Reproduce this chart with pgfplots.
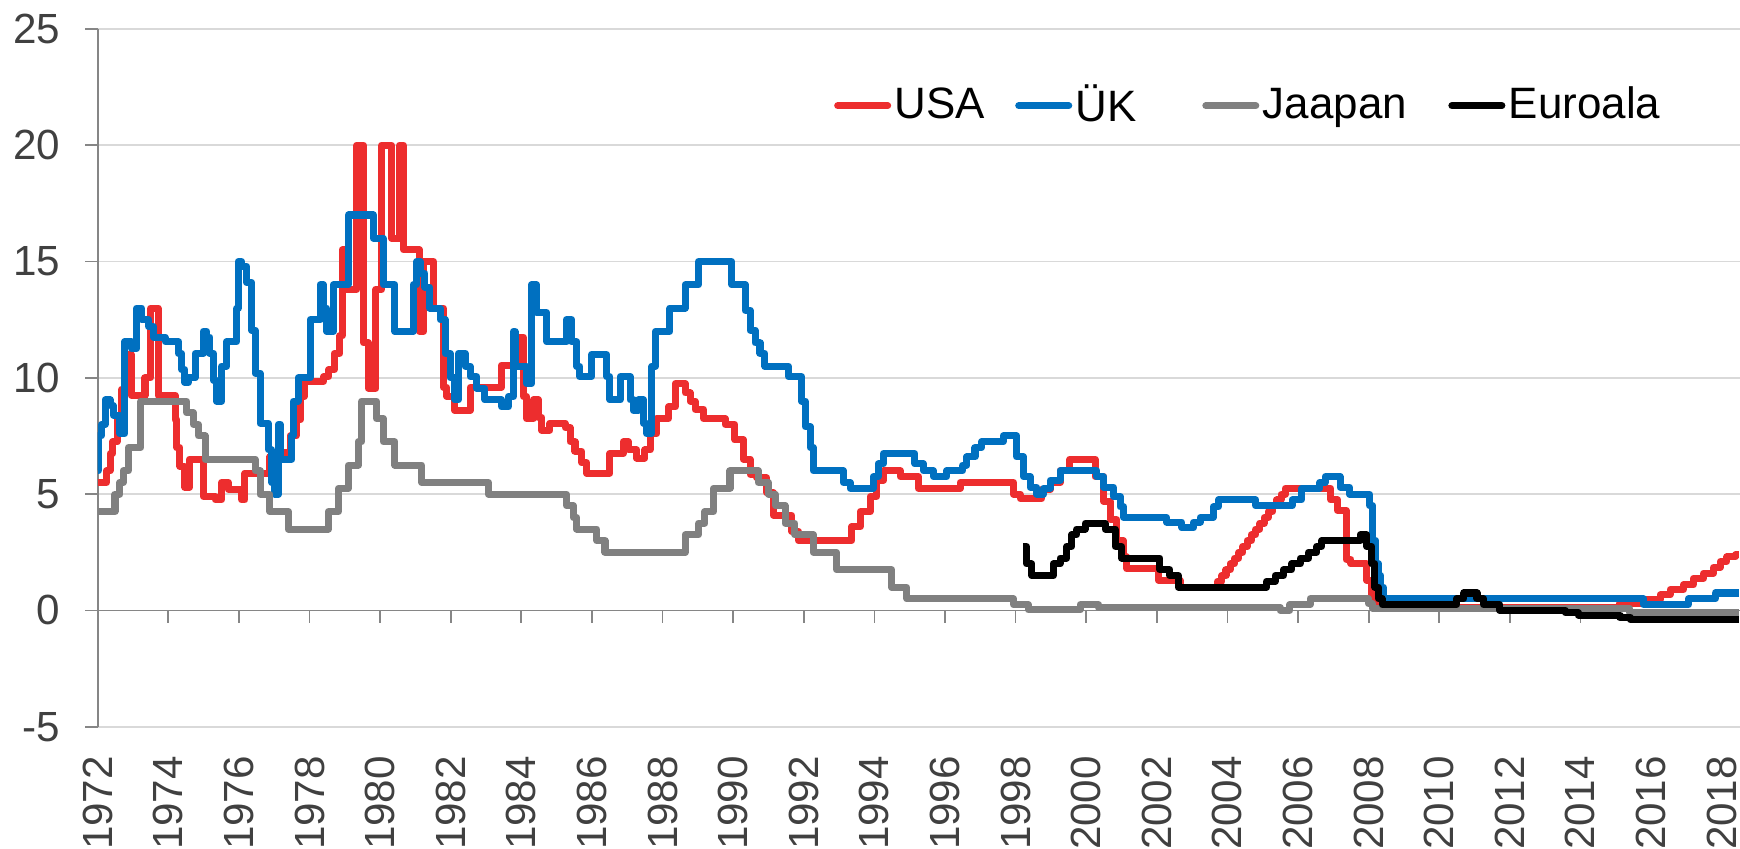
\documentclass[border=0pt]{standalone}
\usepackage{fontspec}
\setmainfont{Liberation Sans}
\usepackage{pgfplots}
\pgfplotsset{compat=1.18}

\definecolor{usared}{RGB}{237,45,46}
\definecolor{ukblue}{RGB}{0,112,192}
\definecolor{jpgray}{RGB}{128,128,128}
\definecolor{axgray}{RGB}{134,134,134}
\definecolor{gridgray}{RGB}{217,217,217}
\definecolor{lblgray}{RGB}{64,64,64}

\begin{document}
\begin{tikzpicture}
\begin{axis}[
  scale only axis,
  width=16.422cm, height=6.978cm,
  xmin=1972, xmax=2018.52,
  ymin=-5, ymax=25,
  axis y line*=left,
  axis x line*=bottom,
  x axis line style={draw=none},
  y axis line style={draw=axgray, line width=0.5pt},
  xtick={1972,1974,...,2018},
  xticklabels={1972,1974,1976,1978,1980,1982,1984,1986,1988,1990,1992,1994,1996,1998,2000,2002,2004,2006,2008,2010,2012,2014,2016,2018},
  ytick={-5,0,5,10,15,20,25},
  yticklabels={-5,0,5,10,15,20,25},
  tick align=outside,
  major tick length=0.127cm,
  xtick style={draw=none},
  ytick style={draw=axgray, line width=0.5pt},
  ymajorgrids,
  major grid style={draw=gridgray, line width=0.45pt},
  ticklabel style={font=\fontsize{12}{14}\selectfont, text=lblgray},
  yticklabel style={inner sep=0pt},
  yticklabel shift=0.24cm,
  xticklabel style={rotate=90, anchor=east, inner sep=0pt},
  xticklabel shift=0.16cm,
  no markers,
  every axis plot/.append style={line width=2pt, line join=round, const plot},
  legend columns=4,
  legend cell align=left,
  legend image code/.code={\draw[#1, line cap=round] plot coordinates {(0cm,0cm) (0.5cm,0cm)};},
  legend style={draw=none, fill=none, inner sep=0pt,
    font=\fontsize{12.5}{15}\selectfont,
    at={(axis description cs:0.448,0.89)}, anchor=west,
    nodes={inner sep=1pt},
    /tikz/every even column/.append style={column sep=0pt}},
]
% axis line at zero with its ticks
\draw[axgray, line width=0.5pt] (axis cs:1972,0) -- (axis cs:2018.52,0);
\pgfplotsinvokeforeach{1972,1974,...,2018}{\draw[axgray, line width=0.5pt] (axis cs:#1,0) -- ++(0pt,-0.127cm);}

% USA
\addplot[usared] coordinates {
(1972.00,5.5) (1972.25,6.0) (1972.35,6.75) (1972.43,7.25) (1972.55,8.2) (1972.68,9.5)
(1972.85,11.0) (1972.95,9.25) (1973.34,10.0) (1973.50,13.0) (1973.71,9.25) (1974.19,8.2)
(1974.24,7.0) (1974.33,6.2) (1974.47,5.3) (1974.60,6.5) (1974.99,4.9) (1975.33,4.75)
(1975.51,5.5) (1975.70,5.2) (1976.08,4.75) (1976.17,5.9) (1976.88,6.6) (1977.10,6.8)
(1977.45,7.5) (1977.62,8.2) (1977.75,9.2) (1977.85,9.85) (1978.40,10.05) (1978.55,10.35)
(1978.70,11.05) (1978.86,11.8) (1978.93,15.5) (1979.02,13.8) (1979.34,20.0) (1979.53,11.5)
(1979.67,9.55) (1979.88,13.8) (1980.04,20.0) (1980.33,16.0) (1980.55,20.0) (1980.66,15.5)
(1981.11,12.0) (1981.23,15.0) (1981.51,13.0) (1981.79,9.6) (1981.89,9.2) (1982.12,8.6)
(1982.55,9.6) (1983.44,10.55) (1983.96,11.75) (1984.06,9.2) (1984.15,8.25) (1984.34,9.05)
(1984.48,8.3) (1984.58,7.75) (1984.81,8.05) (1985.24,7.85) (1985.38,7.25) (1985.52,6.85)
(1985.71,6.35) (1985.85,5.9) (1986.51,6.75) (1986.89,7.25) (1987.03,6.9) (1987.27,6.55)
(1987.50,6.9) (1987.65,7.6) (1987.84,8.25) (1988.17,8.75) (1988.36,9.75) (1988.64,9.35)
(1988.78,9.0) (1988.92,8.65) (1989.16,8.25) (1989.77,8.0) (1990.05,7.33) (1990.29,6.5)
(1990.48,5.85) (1990.67,5.7) (1990.95,5.05) (1991.14,4.1) (1991.66,3.4) (1991.85,3.0)
(1993.36,3.6) (1993.60,4.25) (1993.88,4.9) (1994.07,5.6) (1994.26,6.0) (1994.73,5.75)
(1995.25,5.25) (1996.43,5.5) (1997.94,5.0) (1998.13,4.8) (1998.74,5.2) (1998.98,5.5)
(1999.26,6.0) (1999.54,6.5) (2000.25,5.75) (2000.49,4.7) (2000.68,3.9) (2000.87,3.0)
(2001.05,2.3) (2001.15,1.8) (2002.05,1.3) (2002.66,1.0) (2003.72,1.25) (2003.84,1.5)
(2003.96,1.75) (2004.08,2.0) (2004.20,2.25) (2004.32,2.5) (2004.44,2.75) (2004.56,3.0)
(2004.68,3.25) (2004.80,3.5) (2004.92,3.75) (2005.04,4.0) (2005.16,4.25) (2005.28,4.5)
(2005.40,4.75) (2005.52,5.0) (2005.64,5.25) (2006.93,4.75) (2007.12,4.3) (2007.36,2.2)
(2007.50,2.0) (2007.95,1.3) (2008.07,0.7) (2008.15,0.4) (2008.24,0.12) (2015.10,0.3)
(2015.88,0.45) (2016.26,0.67) (2016.54,0.9) (2016.92,1.1) (2017.20,1.38) (2017.49,1.6)
(2017.77,1.85) (2017.96,2.1) (2018.15,2.3) (2018.40,2.4) (2018.48,2.4)
};
\addlegendentry{\makebox[1.17cm][l]{USA}}

% UK
\addplot[ukblue] coordinates {
(1972.00,6.0) (1972.02,7.5) (1972.11,8.0) (1972.21,9.05) (1972.35,8.8) (1972.44,8.4)
(1972.63,7.6) (1972.77,11.55) (1972.96,11.25) (1973.10,13.0) (1973.25,12.5) (1973.44,12.2)
(1973.58,11.75) (1973.91,11.55) (1974.29,11.05) (1974.38,10.35) (1974.47,9.8) (1974.57,10.0)
(1974.76,11.05) (1974.99,12.0) (1975.09,11.75) (1975.18,11.05) (1975.28,9.9) (1975.37,9.0)
(1975.51,10.5) (1975.65,11.55) (1975.94,13.0) (1975.98,15.0) (1976.08,14.8) (1976.22,14.1)
(1976.36,12.05) (1976.46,10.2) (1976.60,8.05) (1976.83,6.9) (1976.93,5.5) (1977.02,5.0)
(1977.12,8.0) (1977.17,6.5) (1977.50,7.5) (1977.54,9.0) (1977.68,10.0) (1978.02,12.5)
(1978.30,14.0) (1978.39,13.0) (1978.49,12.0) (1978.68,14.0) (1979.10,17.0) (1979.81,16.0)
(1980.09,14.0) (1980.42,12.0) (1980.94,14.0) (1981.04,15.0) (1981.13,14.5) (1981.27,13.9)
(1981.41,13.0) (1981.70,12.5) (1981.84,11.05) (1981.98,10.0) (1982.12,9.05) (1982.22,11.05)
(1982.41,10.5) (1982.55,10.05) (1982.74,9.55) (1982.97,9.05) (1983.44,8.75) (1983.63,9.2)
(1983.78,12.0) (1983.82,10.5) (1984.15,9.75) (1984.29,14.0) (1984.43,12.8) (1984.72,11.55)
(1985.28,12.5) (1985.43,11.55) (1985.57,10.5) (1985.66,10.05) (1985.99,11.0) (1986.42,10.05)
(1986.51,9.05) (1986.80,10.05) (1987.08,9.05) (1987.17,8.6) (1987.31,9.05) (1987.46,8.05)
(1987.55,7.6) (1987.70,10.5) (1987.80,12.0) (1988.21,13.0) (1988.64,14.0) (1989.02,15.0)
(1989.96,14.0) (1990.34,12.9) (1990.48,12.05) (1990.62,11.5) (1990.76,11.05) (1990.90,10.5)
(1991.57,10.05) (1991.94,9.0) (1992.04,7.9) (1992.18,7.0) (1992.27,6.0) (1993.12,5.5)
(1993.31,5.25) (1993.97,5.75) (1994.11,6.3) (1994.26,6.75) (1995.15,6.3) (1995.39,6.0)
(1995.67,5.75) (1996.05,6.0) (1996.50,6.25) (1996.62,6.6) (1996.85,7.0) (1997.04,7.25)
(1997.65,7.5) (1998.03,6.6) (1998.22,5.75) (1998.41,5.3) (1998.60,5.0) (1998.79,5.25)
(1998.98,5.6) (1999.26,6.0) (2000.30,5.75) (2000.49,5.3) (2000.77,4.9) (2000.96,4.45)
(2001.06,4.0) (2002.28,3.8) (2002.71,3.55) (2003.04,3.8) (2003.23,4.0) (2003.60,4.45)
(2003.75,4.75) (2004.80,4.5) (2005.83,4.75) (2006.10,5.25) (2006.62,5.5) (2006.77,5.75)
(2007.19,5.3) (2007.46,5.0) (2008.03,4.5) (2008.12,3.0) (2008.20,2.0) (2008.28,1.5)
(2008.35,1.0) (2008.42,0.5) (2015.79,0.25) (2017.06,0.5) (2017.82,0.75) (2018.48,0.75)
};
\addlegendentry{\makebox[1.23cm][l]{ÜK}}

% Japan
\addplot[jpgray] coordinates {
(1972.00,4.25) (1972.49,5.0) (1972.63,5.5) (1972.72,6.0) (1972.87,7.0) (1973.22,9.0)
(1974.52,8.5) (1974.71,8.0) (1974.85,7.5) (1975.04,6.5) (1976.46,6.0) (1976.60,5.0)
(1976.88,4.25) (1977.40,3.5) (1978.53,4.25) (1978.82,5.25) (1979.10,6.25) (1979.38,7.25)
(1979.48,9.0) (1979.90,8.25) (1980.09,7.25) (1980.42,6.25) (1981.18,5.5) (1983.07,5.0)
(1985.28,4.5) (1985.47,4.0) (1985.57,3.5) (1986.14,3.0) (1986.37,2.5) (1988.64,3.25)
(1989.02,3.75) (1989.20,4.25) (1989.44,5.25) (1989.91,6.0) (1990.71,5.5) (1991.00,5.0)
(1991.20,4.5) (1991.47,3.75) (1991.75,3.25) (1992.27,2.5) (1992.93,1.75) (1994.49,1.0)
(1994.92,0.5) (1997.94,0.25) (1998.36,0.02) (1999.83,0.25) (2000.35,0.12) (2005.49,0.0)
(2005.77,0.25) (2006.34,0.5) (2007.99,0.3) (2008.10,0.1) (2015.40,-0.1) (2018.48,-0.1)
};
\addlegendentry{\makebox[1.82cm][l]{Jaapan}}

% Euro area
\addplot[black] coordinates {
(1998.22,2.75) (1998.31,2.0) (1998.46,1.5) (1999.07,2.0) (1999.26,2.25) (1999.45,2.75)
(1999.59,3.25) (1999.73,3.5) (1999.97,3.75) (2000.54,3.5) (2000.82,2.75) (2001.01,2.25)
(2002.09,1.75) (2002.37,1.5) (2002.61,1.0) (2005.11,1.25) (2005.35,1.5) (2005.59,1.75)
(2005.82,2.0) (2006.06,2.25) (2006.30,2.5) (2006.53,2.75) (2006.67,3.0) (2007.76,3.25)
(2007.95,2.75) (2008.09,2.0) (2008.18,1.0) (2008.28,0.5) (2008.38,0.25) (2010.50,0.5)
(2010.70,0.75) (2011.07,0.5) (2011.26,0.25) (2011.72,0.0) (2013.57,-0.1) (2013.94,-0.2)
(2015.12,-0.3) (2015.41,-0.4) (2018.48,-0.4)
};
\addlegendentry{Euroala}
\end{axis}
\pgfresetboundingbox
\useasboundingbox ([xshift=-0.977cm,yshift=-1.213cm]current axis.south west) rectangle ([yshift=0.289cm]current axis.north east);
\end{tikzpicture}
\end{document}
